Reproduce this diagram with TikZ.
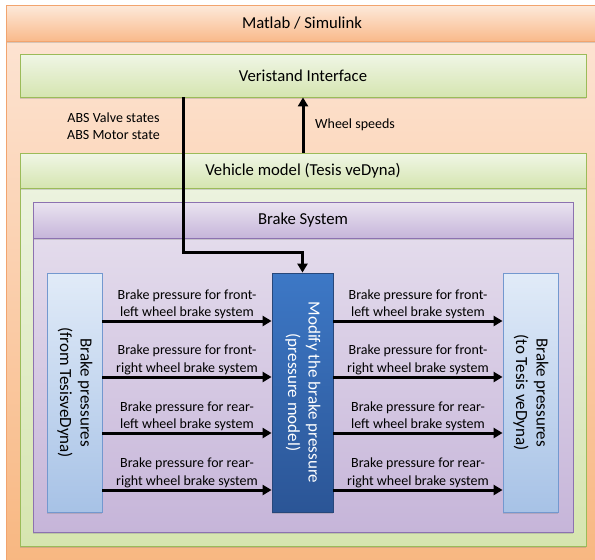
\documentclass[tikz,border=0pt]{standalone}
\usepackage{fontspec}
\setmainfont{Carlito}
\usepackage{graphicx}
\usetikzlibrary{arrows.meta,shadows,calc}

\definecolor{orBorder}{HTML}{F2A46E}
\definecolor{orHeadTop}{HTML}{FDE9DA}
\definecolor{orHeadBot}{HTML}{F9B98A}
\definecolor{orBodyTop}{HTML}{FDE6D7}
\definecolor{orBodyBot}{HTML}{F8B67F}
\definecolor{grBorder}{HTML}{9BBB59}
\definecolor{grHeadTop}{HTML}{F0F6E6}
\definecolor{grHeadBot}{HTML}{D5E5B0}
\definecolor{grBodyTop}{HTML}{EEF4E3}
\definecolor{grBodyBot}{HTML}{D6E5AF}
\definecolor{puBorder}{HTML}{8C72B0}
\definecolor{puHeadTop}{HTML}{EAE4F0}
\definecolor{puHeadBot}{HTML}{C6B5DA}
\definecolor{puBodyTop}{HTML}{E7E0EE}
\definecolor{puBodyBot}{HTML}{C6B5D9}
\definecolor{lbBorder}{HTML}{7398CF}
\definecolor{lbTop}{HTML}{E1EBF8}
\definecolor{lbBot}{HTML}{A7C2E6}
\definecolor{dbBorder}{HTML}{27477A}
\definecolor{dbTop}{HTML}{3D78C6}
\definecolor{dbBot}{HTML}{2B5596}

\begin{document}
\begin{tikzpicture}[x=1pt,y=-1pt,
  shad/.style={drop shadow={opacity=0.3, shadow xshift=0.3pt, shadow yshift=-1.6pt}},
  boxbase/.style={draw, line width=0.8pt, inner sep=0pt},
  orbody/.style={boxbase, draw=orBorder, top color=orBodyTop, bottom color=orBodyBot},
  orhead/.style={boxbase, draw=orBorder, top color=orHeadTop, bottom color=orHeadBot, shad},
  grbody/.style={boxbase, draw=grBorder, top color=grBodyTop, bottom color=grBodyBot, shad},
  grhead/.style={boxbase, draw=grBorder, top color=grHeadTop, bottom color=grHeadBot, shad},
  pubody/.style={boxbase, draw=puBorder, top color=puBodyTop, bottom color=puBodyBot, shad},
  puhead/.style={boxbase, draw=puBorder, top color=puHeadTop, bottom color=puHeadBot, shad},
  lbbox/.style={boxbase, draw=lbBorder, top color=lbTop, bottom color=lbBot, shad,
     minimum width=55pt, minimum height=239pt},
  dbbox/.style={boxbase, draw=dbBorder, top color=dbTop, bottom color=dbBot, shad,
     minimum width=61pt, minimum height=239pt, text=white},
  title/.style={font=\fontsize{16.7}{20}\selectfont},
  vtext/.style={font=\fontsize{17}{20.5}\selectfont},
  lbl/.style={font=\fontsize{14}{17.2}\selectfont, align=center, inner sep=0pt},
  arr/.style={line width=3pt, -{Triangle[length=9pt,width=10pt]}},
]
\path[use as bounding box, clip] (0,0) rectangle (595,560);

% outer Matlab / Simulink
\node[orbody, anchor=north west, minimum width=600pt, minimum height=570pt] (outer) at (6,5) {};
\node[orhead, title, minimum width=600pt, minimum height=36pt, anchor=north west] (outerhead) at (6,5) {};
\node[title] (outertitle) at (302,23) {Matlab / Simulink};

% Veristand
\node[grhead, title, minimum width=566pt, minimum height=43pt] (veri) at (303,75.5) {Veristand Interface};

% Vehicle model
\node[grbody, minimum width=566pt, minimum height=393pt] (veh) at (303,349.5) {};
\node[grhead, title, minimum width=566pt, minimum height=35pt] (vehhead) at (303,170.5) {Vehicle model (Tesis veDyna)};

% Brake system
\node[pubody, minimum width=540pt, minimum height=330pt] (brake) at (303,367) {};
\node[puhead, title, minimum width=540pt, minimum height=36pt] (brakehead) at (303,220) {Brake System};

% inner boxes
\node[lbbox, vtext] (lbox) at (74.5,392.5) {\rotatebox[origin=c]{-90}{\begin{tabular}{@{}c@{}}Brake pressures\\(from TesisveDyna)\end{tabular}}};
\node[dbbox, vtext] (mod) at (302.5,392.5) {\rotatebox[origin=c]{-90}{\begin{tabular}{@{}c@{}}Modify the brake pressure\\(pressure model)\end{tabular}}};
\node[lbbox, vtext] (rbox) at (530.5,392.5) {\rotatebox[origin=c]{-90}{\begin{tabular}{@{}c@{}}Brake pressures\\(to Tesis veDyna)\end{tabular}}};

% signal labels
\node[lbl] (abslbl) at (113.5,126) {ABS Valve states\\ABS Motor state};
\node[lbl, anchor=west] (wheellbl) at (315,125) {Wheel speeds};

% coordinates
\coordinate (absx) at (183,0);
\coordinate (bendy) at (0,252);
\coordinate (r1) at (0,321);
\coordinate (r2) at (0,377);
\coordinate (r3) at (0,433);
\coordinate (r4) at (0,490);

% connectors
\draw[arr] (vehhead.north) -- (veri.south);
\draw[arr, line join=miter] (veri.south -| absx) -- (absx |- bendy) -- (mod.north |- bendy) -- (mod.north);

\draw[arr] (lbox.east |- r1) -- node[lbl, above=1pt] {Brake pressure for front-\\left wheel brake system} (mod.west |- r1);
\draw[arr] (lbox.east |- r2) -- node[lbl, above=1pt] {Brake pressure for front-\\right wheel brake system} (mod.west |- r2);
\draw[arr] (lbox.east |- r3) -- node[lbl, above=1pt] {Brake pressure for rear-\\left wheel brake system} (mod.west |- r3);
\draw[arr] (lbox.east |- r4) -- node[lbl, above=1pt] {Brake pressure for rear-\\right wheel brake system} (mod.west |- r4);

\draw[arr] (mod.east |- r1) -- node[lbl, above=1pt] {Brake pressure for front-\\left wheel brake system} (rbox.west |- r1);
\draw[arr] (mod.east |- r2) -- node[lbl, above=1pt] {Brake pressure for front-\\right wheel brake system} (rbox.west |- r2);
\draw[arr] (mod.east |- r3) -- node[lbl, above=1pt] {Brake pressure for rear-\\left wheel brake system} (rbox.west |- r3);
\draw[arr] (mod.east |- r4) -- node[lbl, above=1pt] {Brake pressure for rear-\\right wheel brake system} (rbox.west |- r4);
\end{tikzpicture}
\end{document}
